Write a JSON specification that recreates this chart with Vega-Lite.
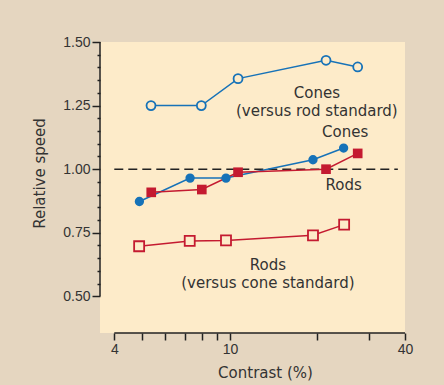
{
  "$schema": "https://vega.github.io/schema/vega-lite/v6.json",
  "width": 305,
  "height": 291,
  "autosize": {"type": "none"},
  "padding": {"left": 100, "top": 42, "right": 39, "bottom": 52},
  "background": "#e5d6c0",
  "config": {
    "view": {"fill": "#fdebc9", "stroke": null},
    "font": "Liberation Sans",
    "axis": {"grid": false, "domain": false, "labelColor": "#333333", "titleColor": "#333333", "tickColor": "#222222", "tickWidth": 1.5, "labelFontSize": 14, "labelFont": "Liberation Sans", "titleFont": "DejaVu Sans", "titleFontSize": 15, "titleFontWeight": "normal", "labelOverlap": false, "labelFlush": false}
  },
  "resolve": {"axis": {"y": "independent"}},
  "datasets": {
    "pts": [
      {"series": "Cones (versus rod standard)", "x": 5.35, "y": 1.25},
      {"series": "Cones (versus rod standard)", "x": 7.97, "y": 1.25},
      {"series": "Cones (versus rod standard)", "x": 10.66, "y": 1.356},
      {"series": "Cones (versus rod standard)", "x": 21.4, "y": 1.428},
      {"series": "Cones (versus rod standard)", "x": 27.5, "y": 1.402},
      {"series": "Cones", "x": 4.88, "y": 0.873},
      {"series": "Cones", "x": 7.29, "y": 0.965},
      {"series": "Cones", "x": 9.69, "y": 0.965},
      {"series": "Cones", "x": 19.3, "y": 1.037},
      {"series": "Cones", "x": 24.6, "y": 1.083},
      {"series": "Rods", "x": 5.36, "y": 0.909},
      {"series": "Rods", "x": 8.0, "y": 0.92},
      {"series": "Rods", "x": 10.66, "y": 0.988},
      {"series": "Rods", "x": 21.4, "y": 1.0},
      {"series": "Rods", "x": 27.5, "y": 1.062},
      {"series": "Rods (versus cone standard)", "x": 4.87, "y": 0.697},
      {"series": "Rods (versus cone standard)", "x": 7.27, "y": 0.718},
      {"series": "Rods (versus cone standard)", "x": 9.69, "y": 0.72},
      {"series": "Rods (versus cone standard)", "x": 19.3, "y": 0.74},
      {"series": "Rods (versus cone standard)", "x": 24.7, "y": 0.782}
    ],
    "labels": [
      {"x": 19.9, "y": 1.30, "text": ["Cones", "(versus rod standard)"]},
      {"x": 24.9, "y": 1.146, "text": ["Cones"]},
      {"x": 24.6, "y": 0.9365, "text": ["Rods"]},
      {"x": 13.5, "y": 0.625, "text": ["Rods", "(versus cone standard)"]}
    ]
  },
  "layer": [
    {
      "data": {"values": [{"x": 4, "x2": 40}]},
      "mark": {"type": "rule", "stroke": "#222222", "strokeWidth": 1.5},
      "encoding": {
        "x": {"field": "x", "type": "quantitative",
          "scale": {"type": "log", "domain": [3.572, 40], "nice": false},
          "axis": {"values": [4, 5, 6, 7, 8, 9, 10, 20, 30, 40], "tickSize": 7, "labelPadding": 2, "labelOverlap": false, "labelFlush": false,
            "labelExpr": "datum.value == 4 || datum.value == 10 || datum.value == 40 ? format(datum.value, 'd') : ''",
            "title": "Contrast (%)", "titlePadding": 9, "titleX": 165}},
        "x2": {"field": "x2"},
        "y": {"datum": 0.356, "type": "quantitative",
          "scale": {"domain": [0.356, 1.5], "nice": false, "zero": false},
          "axis": {"values": [0.5, 0.75, 1.0, 1.25, 1.5], "orient": "left", "format": ".2f",
            "tickSize": 8, "labelPadding": 2,
            "title": "Relative speed", "titlePadding": 15, "titleY": 131}}
      }
    },
    {
      "data": {"values": [{"y": 0.5, "y2": 1.5}]},
      "mark": {"type": "rule", "stroke": "#222222", "strokeWidth": 1.5},
      "encoding": {
        "x": {"datum": 3.572, "type": "quantitative"},
        "y": {"field": "y", "type": "quantitative",
          "axis": {"values": [0.55, 0.6, 0.65, 0.7, 0.8, 0.85, 0.9, 0.95, 1.05, 1.1, 1.15, 1.2, 1.3, 1.35, 1.4, 1.45], "orient": "left",
            "tickSize": 3, "labels": false, "title": null}},
        "y2": {"field": "y2"}
      }
    },
    {
      "data": {"values": [{"x": 4, "x2": 37.8, "y": 1.0}]},
      "mark": {"type": "rule", "stroke": "#222222", "strokeWidth": 1.5, "strokeDash": [9, 5]},
      "encoding": {
        "x": {"field": "x", "type": "quantitative"},
        "x2": {"field": "x2"},
        "y": {"field": "y", "type": "quantitative", "axis": null}
      }
    },
    {
      "data": {"name": "pts"},
      "mark": {"type": "line", "strokeWidth": 1.5},
      "encoding": {
        "x": {"field": "x", "type": "quantitative"},
        "y": {"field": "y", "type": "quantitative", "axis": null},
        "color": {"field": "series", "type": "nominal", "legend": null,
          "scale": {"domain": ["Cones (versus rod standard)", "Cones", "Rods", "Rods (versus cone standard)"], "range": ["#1672b8", "#1672b8", "#c41a30", "#c41a30"]}}
      }
    },
    {
      "data": {"name": "pts"},
      "transform": [{"filter": "datum.series == 'Cones' || datum.series == 'Rods'"}],
      "mark": {"type": "point", "filled": true, "opacity": 1},
      "encoding": {
        "x": {"field": "x", "type": "quantitative"},
        "y": {"field": "y", "type": "quantitative", "axis": null},
        "color": {"field": "series", "type": "nominal", "legend": null},
        "shape": {"field": "series", "type": "nominal", "legend": null,
          "scale": {"domain": ["Cones (versus rod standard)", "Cones", "Rods", "Rods (versus cone standard)"], "range": ["circle", "circle", "square", "square"]}},
        "size": {"field": "series", "type": "nominal", "legend": null,
          "scale": {"domain": ["Cones (versus rod standard)", "Cones", "Rods", "Rods (versus cone standard)"], "range": [80, 100, 122, 95]}}
      }
    },
    {
      "data": {"name": "pts"},
      "transform": [{"filter": "datum.series != 'Cones' && datum.series != 'Rods'"}],
      "mark": {"type": "point", "filled": false, "fill": "#fdebc9", "fillOpacity": 1, "opacity": 1, "strokeWidth": 1.8},
      "encoding": {
        "x": {"field": "x", "type": "quantitative"},
        "y": {"field": "y", "type": "quantitative", "axis": null},
        "color": {"field": "series", "type": "nominal", "legend": null},
        "shape": {"field": "series", "type": "nominal", "legend": null},
        "size": {"field": "series", "type": "nominal", "legend": null}
      }
    },
    {
      "data": {"name": "labels"},
      "mark": {"type": "text", "font": "DejaVu Sans", "fontSize": 15, "lineHeight": 18, "color": "#333333", "align": "center", "baseline": "middle"},
      "encoding": {
        "x": {"field": "x", "type": "quantitative"},
        "y": {"field": "y", "type": "quantitative", "axis": null},
        "text": {"field": "text"}
      }
    }
  ]
}
